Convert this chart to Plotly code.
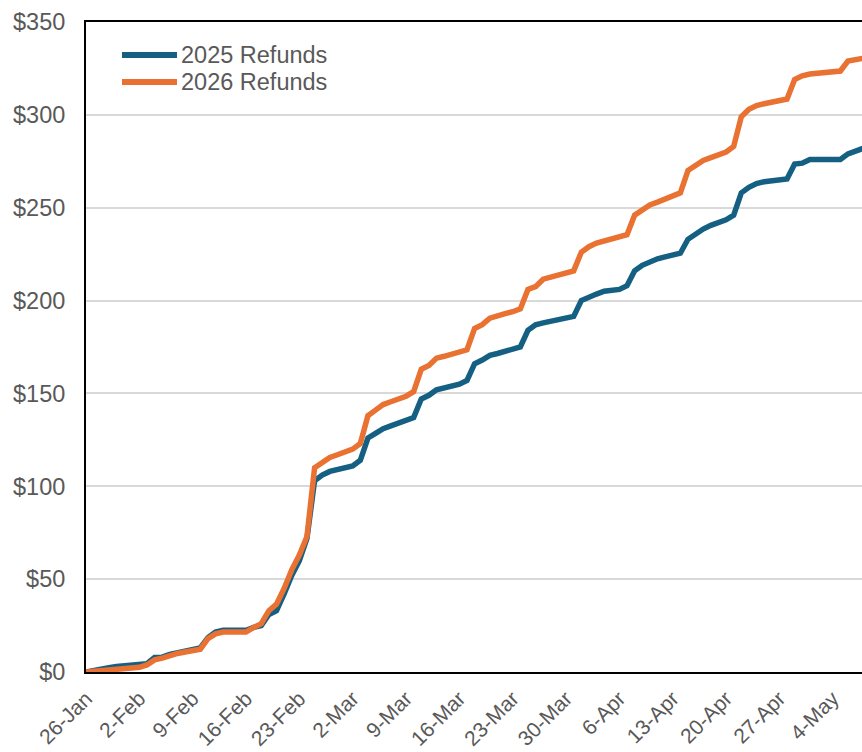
import pandas as pd
import plotly.graph_objects as go

# Daily cumulative refunds ($), one value per day starting 26-Jan
start_date = "2026-01-26"

refunds_2025 = [
    0, 1, 1.5, 2.3, 3.0, 3.5, 4.0, 4.2, 4.5, 7.8,
    8, 9.5, 10.5, 11.5, 12.3, 13, 18.5, 21.5, 22.5, 22.5,
    22.5, 22.5, 24, 25, 31, 33, 42, 52, 60, 72,
    103, 106, 108, 109, 110, 111, 114, 126, 128.5, 131,
    132.5, 134, 135, 137, 147, 149, 152, 153, 154, 155,
    157, 166, 168, 170.5, 171.5, 172.5, 173.5, 175, 184, 187,
    188, 189, 189.5, 190.5, 191.5, 200, 202, 203.5, 205, 205.5,
    206, 208, 216, 219, 221, 222.5, 223.5, 224.5, 225.5, 233,
    236, 238.5, 240.5, 242, 243.5, 246, 258, 261, 263, 264,
    264.5, 265, 265.5, 273.5, 274, 276, 276, 276, 276, 276,
    279, 280.5, 282,
]

refunds_2026 = [
    0, 0.3, 0.5, 0.8, 1.0, 1.3, 1.8, 2.5, 3.8, 6.5,
    7.5, 9, 10, 10.8, 11.5, 12.3, 18, 20.5, 21.5, 21.5,
    21.5, 21.5, 24, 26, 33, 36.5, 45, 55, 63, 73,
    110, 113, 115.5, 117, 118.5, 120, 123, 138, 141, 144,
    145.5, 147, 148.5, 151, 163, 165, 169, 170, 171, 172,
    173.5, 185, 187, 190.5, 192, 193, 194, 195.5, 206, 207.5,
    211.5, 212.5, 213.5, 214.5, 216, 226, 229, 231, 232, 233,
    234, 235.5, 246, 249, 251.5, 253, 254.5, 256, 258, 270,
    273, 275.5, 277, 278.5, 280, 283, 299, 303, 305, 306,
    307, 307.5, 308.5, 319, 321, 322, 322.5, 323, 323.3, 323.6,
    329, 329.5, 330.5,
]

series_names = ["2025 Refunds", "2026 Refunds"]
series_colors = ["#156082", "#E97132"]

dates = pd.date_range(start_date, periods=len(refunds_2026), freq="D")

TEXT_COLOR = "#595959"
FONT = "Liberation Sans, Arial, sans-serif"
FONT_SIZE = 23.5

# Plot-area geometry in pixels
PLOT_L, PLOT_T, PLOT_W, PLOT_H = 86, 22, 776, 650

fig = go.Figure()
for name, values, color in zip(series_names, [refunds_2025, refunds_2026], series_colors):
    fig.add_trace(go.Scatter(
        x=dates, y=values, mode="lines", name=name,
        line=dict(color=color, width=5.5),
        showlegend=False,
    ))

# Legend drawn inside the plot area, top-left
legend_rows_y = [55, 82]
for name, color, ypix in zip(series_names, series_colors, legend_rows_y):
    yp = 1 - (ypix - PLOT_T) / PLOT_H
    fig.add_shape(type="line", xref="paper", yref="paper",
                  x0=(122 - PLOT_L) / PLOT_W, x1=(177 - PLOT_L) / PLOT_W, y0=yp, y1=yp,
                  line=dict(color=color, width=6))
    fig.add_annotation(xref="paper", yref="paper", x=(179 - PLOT_L) / PLOT_W, y=yp,
                       text=name, showarrow=False, xanchor="left", yanchor="middle",
                       font=dict(family=FONT, size=FONT_SIZE, color=TEXT_COLOR))

fig.update_layout(
    width=862, height=752,
    margin=dict(l=PLOT_L, r=0, t=PLOT_T, b=752 - PLOT_T - PLOT_H),
    paper_bgcolor="white", plot_bgcolor="white",
    font=dict(family=FONT, size=FONT_SIZE, color=TEXT_COLOR),
    xaxis=dict(
        type="date",
        range=["2026-01-26", "2026-05-07 20:10"],
        tick0="2026-01-26", dtick=7 * 24 * 3600 * 1000,
        tickformat="%-d-%b", tickangle=-45,
        tickfont=dict(size=21),
        showgrid=False, zeroline=False,
        showline=True, linecolor="black", linewidth=2, mirror=True,
        ticks="", ticklabelstandoff=4, automargin=False,
    ),
    yaxis=dict(
        range=[0, 350], dtick=50, tickprefix="$",
        showgrid=True, gridcolor="#D9D9D9", gridwidth=1.5,
        zeroline=False,
        showline=True, linecolor="black", linewidth=2,
        ticks="", ticklabelstandoff=14, automargin=False,
    ),
)

fig.write_html("out.html")
